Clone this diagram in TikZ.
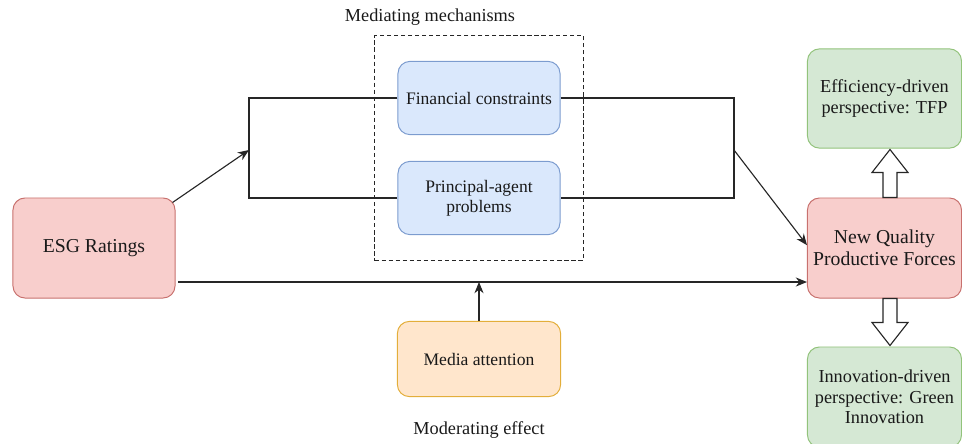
\documentclass[tikz,border=0pt]{standalone}
\usepackage{fontspec}
\setmainfont{Liberation Serif}
\usetikzlibrary{arrows.meta,calc,fit}
\definecolor{redfill}{HTML}{F8CECC}
\definecolor{redline}{HTML}{C8716E}
\definecolor{bluefill}{HTML}{DAE8FC}
\definecolor{blueline}{HTML}{7C9CCF}
\definecolor{greenfill}{HTML}{D5E8D4}
\definecolor{greenline}{HTML}{92C37B}
\definecolor{orangefill}{HTML}{FFE6CC}
\definecolor{orangeline}{HTML}{E3AE3A}

\begin{document}
\begin{tikzpicture}[x=0.025cm, y=-0.025cm,
    box/.style={draw, rounded corners=0.3cm, align=center, inner sep=0pt,
      line width=0.7pt, text=black!90,
      font=\fontsize{12.5}{14.5}\selectfont},
    redbox/.style={box, fill=redfill, draw=redline,
      minimum width=3.85cm, minimum height=2.5cm,
      font=\fontsize{14}{15.5}\selectfont},
    bluebox/.style={box, fill=bluefill, draw=blueline,
      minimum width=4.05cm, minimum height=1.83cm},
    greenbox/.style={box, fill=greenfill, draw=greenline,
      minimum width=3.85cm, minimum height=2.48cm,
      font=\fontsize{13}{14.5}\selectfont},
    orangebox/.style={box, fill=orangefill, draw=orangeline,
      minimum width=4.08cm, minimum height=1.88cm},
    label/.style={text=black!90, font=\fontsize{13}{15}\selectfont},
    conn/.style={line width=0.8pt, black!85},
    arr/.style={conn, -{Stealth[length=8pt,width=6.5pt]}},
    hollow/.style={line width=0.8pt, black!85, fill=white},
    dashedbox/.style={draw, line width=0.8pt, black!85,
      dash pattern=on 3pt off 2pt, inner xsep=0.575cm, inner ysep=0.625cm}]
      \useasboundingbox (0,0) rectangle (962,443);
      % Boxes
      \node[redbox, minimum width=4.05cm] (esg) at (94,248) {ESG Ratings};
      \node[bluebox] (fin) at (479,98) {Financial constraints};
      \node[bluebox] (pa) at (479,198) {Principal-agent\\problems};
      \node[orangebox] (media) at (479,359) {Media attention};
      \node[redbox] (nqpf) at (884.5,248) {New Quality\\Productive Forces};
      \node[greenbox] (eff) at (884.5,98.5) {Efficiency-driven\\perspective: TFP};
      \node[greenbox, minimum height=2.5cm] (inno) at (884.5,397)
      {Innovation-driven\\perspective: Green\\Innovation};
      % Mediating group
      \node[dashedbox, fit=(fin)(pa)] (mech) {};
      \node[label] (mechlabel) at (430,17) {Mediating mechanisms};
      \node[label] (modlabel) at (479,430) {Moderating effect};
      % Brackets
      \coordinate (lm) at (249,150);
      \coordinate (rm) at (734,150);
      \coordinate (ybase) at (0,282);
      \draw[conn] (fin.west) -- (fin.west -| lm) -- (pa.west -| lm) -- (pa.west);
      \draw[conn] (fin.east) -- (fin.east -| rm) -- (pa.east -| rm) -- (pa.east);
      % Arrows
      \draw[arr] ([shift={(-3,5)}]esg.north east) -- (lm);
      \draw[arr] (rm) -- ([yshift=2]nqpf.west);
      \draw[arr] ([xshift=2]esg.east |- ybase) -- (nqpf.west |- ybase);
      \draw[arr] (media.north) -- (media.north |- ybase);
      % Hollow arrows
      \draw[hollow] ($(nqpf.north)+(-1.5,0)$) -- ++(0,-25) -- ++(-11,0)
      -- ++(18,-23) -- ++(18,23) -- ++(-11,0) -- ++(0,25) -- cycle;
      \draw[hollow] ($(nqpf.south)+(-1.5,0)$) -- ++(0,24) -- ++(-11,0)
      -- ++(18,23) -- ++(18,-23) -- ++(-11,0) -- ++(0,-24) -- cycle;
\end{tikzpicture}
\end{document}
